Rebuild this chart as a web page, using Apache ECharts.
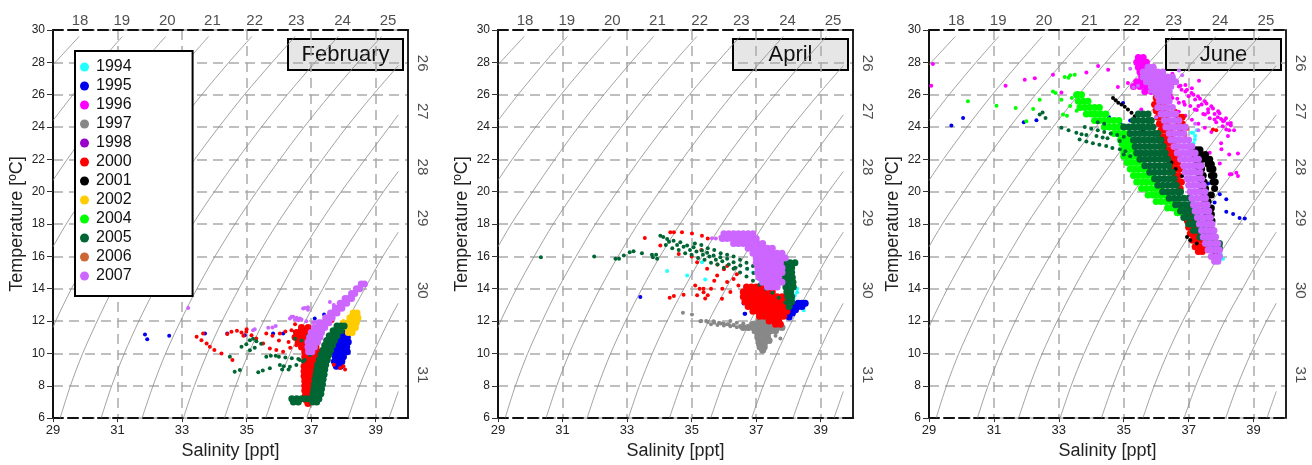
<!DOCTYPE html>
<html>
<head>
<meta charset="utf-8">
<script src="https://cdn.jsdelivr.net/npm/echarts@6.0.0/dist/echarts.min.js"></script>
<style>
  html, body { margin: 0; padding: 0; background: #fff; }
  #chart { width: 1312px; height: 465px; }
</style>
</head>
<body>
<div id="chart"></div>
<script>
// ---- labels ----
const months = ['February', 'April', 'June'];
const years = ['1994', '1995', '1996', '1997', '1998', '2000', '2001', '2002', '2004', '2005', '2006', '2007'];
const yearColors = ['#22ffff', '#0000ee', '#ff00ff', '#888888', '#9900cc', '#ff0000', '#000000', '#ffcc00', '#00ff00', '#006633', '#cc6633', '#cc66ff'];

// sigma-t labels along the top (salinity at T=30) and right (temperature at S=40)
const topSigma = [18, 19, 20, 21, 22, 23, 24, 25];
const topSigmaS = [29.84, 31.13, 32.54, 33.94, 35.25, 36.54, 37.97, 39.38];
const rightSigma = [26, 27, 28, 29, 30, 31];
const rightSigmaT = [27.95, 24.97, 21.53, 18.37, 13.9, 8.67];

// isopycnals, [salinity, temperature]
const iso18 = [[29, 27.85], [29.81, 29.6]];
const iso19 = [[29, 24.4], [29.62, 26], [30.45, 28], [31.15, 29.6]];
const iso20 = [[29, 20.7], [29.44, 22], [30.17, 24], [30.95, 26], [31.79, 28], [32.49, 29.6]];
const iso21 = [[29, 16.6], [29.41, 18], [30.07, 20], [30.76, 22], [31.49, 24], [32.28, 26], [33.12, 28], [33.82, 29.6]];
const iso22 = [[29, 11.6], [29.08, 12], [29.57, 14], [30.12, 16], [30.71, 18], [31.38, 20], [32.08, 22], [32.82, 24], [33.61, 26], [34.45, 28], [35.16, 29.6]];
const iso23 = [[29.22, 6], [29.54, 8], [29.92, 10], [30.37, 12], [30.86, 14], [31.42, 16], [32.02, 18], [32.69, 20], [33.39, 22], [34.14, 24], [34.93, 26], [35.79, 28], [36.5, 29.6]];
const iso24 = [[30.49, 6], [30.82, 8], [31.21, 10], [31.66, 12], [32.16, 14], [32.72, 16], [33.33, 18], [34.0, 20], [34.71, 22], [35.46, 24], [36.26, 26], [37.12, 28], [37.84, 29.6]];
const iso25 = [[31.76, 6], [32.1, 8], [32.49, 10], [32.95, 12], [33.46, 14], [34.02, 16], [34.64, 18], [35.31, 20], [36.03, 22], [36.78, 24], [37.59, 26], [38.45, 28], [39.18, 29.6]];
const iso26 = [[33.04, 6], [33.38, 8], [33.78, 10], [34.24, 12], [34.76, 14], [35.32, 16], [35.94, 18], [36.62, 20], [37.35, 22], [38.1, 24], [38.92, 26], [39.7, 27.8]];
const iso27 = [[34.31, 6], [34.66, 8], [35.06, 10], [35.53, 12], [36.06, 14], [36.62, 16], [37.25, 18], [37.93, 20], [38.67, 22], [39.42, 24], [39.7, 24.75]];
const iso28 = [[35.59, 6], [35.94, 8], [36.35, 10], [36.82, 12], [37.36, 14], [37.92, 16], [38.56, 18], [39.24, 20], [39.7, 21.25]];
const iso29 = [[36.86, 6], [37.22, 8], [37.64, 10], [38.11, 12], [38.66, 14], [39.22, 16], [39.7, 17.5]];
const iso30 = [[38.14, 6], [38.5, 8], [38.92, 10], [39.4, 12], [39.7, 13.1]];
const iso31 = [[39.41, 6], [39.7, 7.65]];
const isopycnals = [iso18, iso19, iso20, iso21, iso22, iso23, iso24, iso25, iso26, iso27, iso28, iso29, iso30, iso31];

// ---- February ----
// scattered casts: [S, T]; dense clouds: rows of [T, S, S, ...]
const feb1995Pts = [[31.85, 11.17], [31.92, 10.88], [32.6, 11.09], [33.71, 11.23], [34.4, 11.23], [34.94, 11.13], [35.82, 11.23], [36.13, 11.23], [36.49, 11.34], [36.65, 11.44], [36.8, 11.5], [37.11, 12.16], [37.4, 12.4], [37.3, 11.4]];
const feb1995Rows = [
  [11.6, 37.85, 37.95, 38.05], [11.3, 37.8, 37.92, 38.05], [11.0, 37.75, 37.88, 38.0, 38.12],
  [10.7, 37.75, 37.88, 38.0, 38.15], [10.4, 37.72, 37.85, 37.98, 38.1], [10.1, 37.72, 37.85, 37.98, 38.12],
  [9.8, 37.75, 37.88, 38.0], [9.5, 37.72, 37.85, 37.95], [9.2, 37.78, 37.9]
];
const feb2000Pts = [[33.45, 11.03], [33.6, 10.82], [33.76, 10.62], [33.86, 10.41], [34.0, 10.21], [34.22, 10.0], [34.56, 9.59], [33.65, 11.23], [34.4, 11.2], [34.53, 11.34], [34.7, 11.4], [34.84, 11.3], [34.99, 11.34], [35.15, 11.13], [35.3, 10.92], [35.51, 10.62], [35.72, 10.31], [35.92, 10.21], [36.13, 10.1], [36.35, 10.35], [36.54, 10.51], [35.61, 11.23], [35.8, 11.1], [36.03, 11.23], [36.2, 11.35], [36.39, 11.44], [36.6, 11.3], [36.75, 11.03], [36.6, 10.8], [36.85, 10.41], [36.0, 10.8], [35.0, 11.5], [34.9, 11.1], [37.6, 12.3], [37.65, 12.0], [37.7, 9.3], [37.9, 9.1], [38.0, 9.2], [38.05, 9.0], [36.5, 11.8], [36.3, 10.7]];
const feb2000Rows = [
  [11.6, 36.7, 36.9], [11.3, 36.55, 36.7, 36.85, 37.0], [11.0, 36.5, 36.65, 36.8, 36.95, 37.1],
  [10.7, 36.6, 36.75, 36.9, 37.05], [10.4, 36.7, 36.85, 37.0, 37.15], [10.1, 36.8, 36.95, 37.1, 37.2],
  [9.8, 36.8, 36.95, 37.1, 37.2], [9.5, 36.8, 36.92, 37.05, 37.18], [9.2, 36.78, 36.9, 37.02, 37.14],
  [8.9, 36.78, 36.9, 37.02, 37.12], [8.6, 36.78, 36.9, 37.0, 37.1], [8.3, 36.8, 36.92, 37.05],
  [8.0, 36.8, 36.92, 37.05], [7.7, 36.8, 36.92, 37.02], [7.4, 36.82, 36.94], [7.1, 36.85, 36.95], [6.9, 36.9]
];
const feb2002Pts = [[37.95, 11.95], [38.0, 12.0]];
const feb2002Rows = [
  [12.5, 38.3, 38.42], [12.2, 38.2, 38.32, 38.45], [11.9, 38.15, 38.28, 38.4],
  [11.6, 38.12, 38.25, 38.37], [11.3, 38.15, 38.27]
];
const feb2005Pts = [[34.84, 10.41], [34.99, 10.56], [35.1, 10.2], [35.25, 10.35], [34.48, 9.8], [34.63, 8.87], [34.79, 8.98], [35.36, 8.83], [35.5, 8.95], [35.72, 9.08], [35.61, 9.8], [35.75, 9.85], [36.03, 9.28], [36.15, 9.2], [36.34, 9.18], [36.54, 9.28], [36.65, 9.59], [36.75, 9.5], [36.96, 9.9], [35.1, 10.82], [35.2, 10.9], [35.9, 9.85], [36.0, 9.8], [36.2, 9.75], [36.4, 9.7], [36.6, 9.65], [36.8, 9.6], [36.1, 9.0], [36.3, 9.0], [35.3, 10.75], [35.45, 10.6], [36.5, 10.9], [36.7, 10.8], [36.9, 11.1]];
const feb2005Rows = [
  [11.7, 37.8, 37.92, 38.02], [11.4, 37.68, 37.8, 37.92], [11.1, 37.56, 37.68, 37.8],
  [10.8, 37.48, 37.6, 37.72], [10.5, 37.42, 37.54, 37.66], [10.2, 37.36, 37.48, 37.6],
  [9.9, 37.3, 37.42, 37.54], [9.6, 37.25, 37.37, 37.5], [9.3, 37.2, 37.32, 37.45],
  [9.0, 37.17, 37.29, 37.42], [8.7, 37.15, 37.27, 37.4], [8.4, 37.12, 37.24, 37.37],
  [8.1, 37.1, 37.22, 37.35], [7.8, 37.08, 37.2, 37.32], [7.5, 37.06, 37.18, 37.3],
  [7.2, 36.4, 36.55, 36.7, 36.85, 37.0, 37.12, 37.24], [7.0, 36.45, 36.6, 37.05, 37.17]
];
const feb2007Pts = [[33.19, 12.81], [35.2, 11.44], [35.25, 11.5], [35.67, 11.58], [35.8, 11.6], [36.44, 12.26], [36.65, 12.16], [36.85, 11.99], [37.11, 11.95], [36.75, 12.77], [36.9, 12.85], [37.58, 13.18], [37.7, 13.0], [36.8, 12.81], [36.9, 12.7], [36.34, 12.16], [36.5, 12.1], [36.6, 12.05], [36.39, 12.26], [36.55, 12.2], [36.7, 12.1], [37.06, 11.91], [35.9, 11.7], [38.55, 14.2]];
const feb2007Rows = [
  [14.3, 38.55, 38.65], [14.0, 38.4, 38.5], [13.7, 38.25, 38.35], [13.4, 38.05, 38.15, 38.25],
  [13.1, 37.9, 38.0, 38.1], [12.8, 37.75, 37.85, 37.95], [12.5, 37.6, 37.7, 37.8],
  [12.2, 37.45, 37.55, 37.65], [11.9, 37.25, 37.35, 37.45, 37.55], [11.6, 37.1, 37.2, 37.3, 37.42],
  [11.3, 37.0, 37.1, 37.2, 37.32], [11.0, 36.95, 37.05, 37.15, 37.27], [10.7, 36.9, 37.0, 37.1, 37.2],
  [10.4, 36.9, 37.0, 37.1], [10.1, 36.92, 37.02]
];

// ---- April ----
const apr1994Pts = [[34.24, 15.09], [34.86, 14.82], [35.42, 14.57], [35.32, 15.64], [38.27, 13.79], [38.47, 12.67], [36.72, 15.23], [38.16, 13.39], [38.27, 14.0], [37.13, 14.41], [37.25, 14.3], [38.35, 13.2], [38.2, 13.6], [37.4, 14.15], [36.9, 15.0]];
const apr1995Pts = [[33.41, 13.49], [36.64, 12.46], [36.61, 13.08], [37.03, 12.87], [37.15, 12.87], [37.44, 12.87], [37.38, 12.75], [36.66, 12.46], [37.25, 12.95]];
const apr1995Rows = [
  [13.1, 38.3, 38.42, 38.52], [12.9, 38.05, 38.17, 38.3, 38.42], [12.7, 37.98, 38.1, 38.22],
  [12.5, 38.0, 38.12], [12.25, 38.02]
];
const apr1997Pts = [[34.73, 12.52], [35.01, 12.4], [35.27, 11.99], [35.45, 12.0], [35.68, 11.99], [35.85, 11.9], [35.99, 11.85], [36.15, 11.8], [36.3, 11.74], [36.51, 11.64], [36.4, 11.9], [36.6, 11.85], [36.77, 11.54], [36.92, 11.33], [37.75, 10.92], [37.6, 11.1], [36.2, 12.0], [35.3, 12.0], [35.5, 11.95], [35.7, 11.9], [35.9, 11.85], [36.1, 11.8], [36.3, 11.75], [36.5, 11.7], [35.6, 11.8], [35.8, 11.75], [36.0, 11.72], [36.2, 11.68], [36.4, 11.62]];
const apr1997Rows = [
  [12.0, 37.1, 37.25, 37.4, 37.55], [11.8, 36.9, 37.05, 37.2, 37.35, 37.5, 37.65],
  [11.6, 36.6, 36.75, 36.9, 37.05, 37.2, 37.35, 37.5, 37.65, 37.8], [11.4, 37.0, 37.15, 37.3, 37.45, 37.6],
  [11.2, 37.05, 37.2, 37.35], [11.0, 37.05, 37.2, 37.35], [10.8, 37.1, 37.25, 37.4],
  [10.6, 37.1, 37.25], [10.4, 37.12, 37.25], [10.2, 37.2]
];
const apr2000Pts = [[33.55, 17.14], [34.34, 17.49], [34.45, 17.49], [34.7, 17.49], [35.01, 17.42], [35.32, 17.28], [35.5, 17.1], [34.03, 16.67], [34.6, 16.15], [34.32, 13.45], [34.45, 13.55], [34.75, 13.63], [35.11, 14.2], [35.25, 14.0], [35.37, 13.79], [35.5, 13.6], [35.94, 13.38], [35.17, 15.64], [35.48, 15.23], [35.79, 14.82], [36.1, 14.41], [35.6, 14.0], [36.0, 15.2], [36.3, 14.6], [35.37, 14.0], [35.17, 13.59], [35.42, 13.39], [35.8, 15.5], [36.1, 15.4], [36.4, 14.9], [35.7, 14.5], [35.95, 14.0], [36.2, 13.8], [36.45, 14.2], [35.0, 16.0], [35.3, 16.4]];
const apr2000Rows = [
  [14.1, 36.7, 36.85, 37.0, 37.15], [13.8, 36.6, 36.75, 36.9, 37.05, 37.2, 37.35, 37.5],
  [13.5, 36.6, 36.75, 36.9, 37.05, 37.2, 37.35, 37.5, 37.65, 37.8],
  [13.2, 36.65, 36.8, 36.95, 37.1, 37.25, 37.4, 37.55, 37.7, 37.85, 38.0],
  [12.9, 36.75, 36.9, 37.05, 37.2, 37.35, 37.5, 37.65, 37.8, 37.95],
  [12.6, 36.9, 37.05, 37.2, 37.35, 37.5, 37.65, 37.8, 37.95],
  [12.3, 37.1, 37.25, 37.4, 37.55, 37.7, 37.85], [12.0, 37.4, 37.55, 37.7], [11.8, 37.6, 37.75]
];
const apr2005Pts = [[30.33, 15.95], [31.98, 15.99], [32.64, 15.85], [32.75, 15.85], [32.9, 16.05], [33.08, 16.26], [33.2, 16.32], [33.46, 16.2], [33.77, 16.1], [33.8, 15.95], [33.93, 15.85], [33.9, 16.1], [34.03, 17.28], [34.12, 17.2], [34.24, 17.08], [34.44, 16.97], [34.65, 16.87], [34.86, 16.67], [35.06, 16.57], [35.32, 16.36], [35.48, 16.22], [35.68, 16.05], [35.89, 15.95], [36.1, 15.85], [36.3, 15.64], [36.51, 15.44], [36.72, 15.23], [36.92, 14.98], [37.13, 14.82], [37.54, 14.41], [34.2, 16.7], [34.4, 16.5], [34.6, 16.4], [34.8, 16.2], [35.0, 16.1], [35.2, 15.9], [35.4, 15.8], [35.6, 15.6], [35.8, 15.5], [36.0, 15.3], [34.3, 16.9], [34.55, 16.7], [34.75, 16.6], [34.95, 16.4], [35.15, 16.3], [35.35, 16.1], [35.55, 16.0], [35.75, 15.8], [35.95, 15.7], [36.15, 15.5], [36.35, 15.3], [35.1, 16.8], [35.3, 16.7], [35.5, 16.5], [35.7, 16.4], [35.9, 16.2], [36.1, 16.1], [36.3, 16.0], [36.5, 15.8], [36.7, 15.6], [36.9, 15.4], [37.1, 15.2], [37.3, 15.0], [37.5, 14.8], [37.7, 14.6], [36.3, 15.23], [36.5, 15.0], [36.7, 14.75], [36.9, 14.5], [37.1, 14.25], [37.3, 14.0], [37.5, 13.75], [37.7, 13.45], [37.9, 13.15], [37.5, 16.0], [37.7, 15.8]];
const apr2005Rows = [
  [15.6, 37.9, 38.05, 38.2], [15.3, 37.85, 37.98, 38.1], [15.0, 37.85, 37.98, 38.1],
  [14.7, 37.88, 38.0, 38.12], [14.4, 37.9, 38.02, 38.14], [14.1, 37.92, 38.04, 38.15],
  [13.8, 37.95, 38.07], [13.5, 37.98, 38.1], [13.2, 38.0, 38.1], [12.9, 38.02]
];
const apr2007Pts = [[35.63, 17.12], [35.89, 17.2], [35.75, 17.1], [36.0, 17.3]];
const apr2007Rows = [
  [17.4, 36.0, 36.15, 36.3, 36.45, 36.6, 36.75, 36.9], [17.1, 35.95, 36.1, 36.25, 36.4, 36.55, 36.7, 36.85, 37.0],
  [16.8, 36.3, 36.45, 36.6, 36.75, 36.9, 37.05, 37.2], [16.5, 36.75, 36.9, 37.05, 37.2, 37.35, 37.5],
  [16.2, 36.9, 37.05, 37.2, 37.35, 37.5, 37.65, 37.8], [15.9, 37.0, 37.15, 37.3, 37.45, 37.6, 37.75, 37.9],
  [15.6, 37.0, 37.15, 37.3, 37.45, 37.6, 37.75], [15.3, 37.05, 37.2, 37.35, 37.5, 37.65, 37.8],
  [15.0, 37.05, 37.2, 37.35, 37.5, 37.65, 37.8], [14.7, 37.1, 37.25, 37.4, 37.55, 37.7],
  [14.4, 37.2, 37.35, 37.5, 37.65, 37.8], [14.1, 37.35, 37.5, 37.65]
];

// ---- June ----
const jun1994Pts = [[37.14, 23.64], [37.09, 23.64], [37.19, 23.23], [37.15, 23.0], [37.2, 23.45], [38.01, 15.85], [38.06, 15.85], [38.0, 16.1], [37.25, 23.8]];
const jun1995Pts = [[29.69, 24.09], [30.05, 24.56], [31.92, 24.3], [32.31, 24.42], [34.16, 24.36], [34.45, 24.4], [34.55, 24.6], [34.98, 25.49], [34.9, 24.2], [35.2, 24.4], [37.75, 21.49], [37.96, 19.85], [38.16, 19.54], [38.16, 18.76], [38.37, 18.62], [38.57, 18.37], [38.73, 18.35], [37.8, 19.33], [36.6, 24.4], [37.6, 20.5], [37.5, 18.5]];
const jun1996Pts = [[29.12, 27.9], [29.07, 26.55], [31.95, 26.92], [32.26, 27.02], [32.82, 27.23], [33.85, 27.37], [34.21, 27.78], [34.52, 27.54], [34.82, 26.47], [33.08, 26.14], [31.36, 26.55], [37.32, 26.86], [38.52, 22.37], [38.47, 21.18], [38.25, 22.3], [37.96, 21.75], [38.27, 21.08], [38.0, 23.0], [36.57, 26.72], [36.78, 26.31], [37.09, 26.1], [37.29, 25.9], [37.5, 25.59], [37.7, 25.28], [37.91, 24.97], [38.06, 24.36], [36.88, 25.38], [37.19, 25.08], [37.5, 24.77], [37.8, 24.46], [38.16, 23.85], [38.21, 23.44], [38.01, 22.62], [38.52, 20.97], [38.32, 21.08], [37.7, 21.8], [37.65, 22.41], [36.7, 26.5], [36.9, 26.2], [37.0, 25.9], [37.2, 25.7], [37.4, 25.4], [37.6, 25.1], [37.8, 24.8], [38.0, 24.5], [38.2, 24.2], [37.3, 25.3], [37.6, 24.9], [37.9, 24.6], [38.1, 24.4], [38.3, 24.1], [38.4, 23.8], [36.9, 26.6], [37.1, 26.4], [36.4, 26.9], [36.3, 27.1], [36.5, 27.3], [35.13, 26.72], [35.54, 25.08], [35.95, 24.05], [36.1, 23.6], [36.47, 22.0], [36.57, 21.38], [36.37, 20.36], [36.3, 26.0], [36.5, 25.8], [36.7, 25.5],
  [36.6, 26.75], [36.75, 26.55], [36.95, 26.3], [37.15, 26.0], [37.35, 25.75], [37.55, 25.45], [37.75, 25.15], [37.95, 24.85], [38.15, 24.55], [38.3, 24.25],
  [36.45, 26.0], [36.65, 25.75], [36.85, 25.55], [37.05, 25.3], [37.25, 25.05], [37.45, 24.8], [37.65, 24.55], [37.85, 24.3], [38.05, 24.05], [38.25, 23.8],
  [36.5, 25.2], [36.7, 24.95], [36.9, 24.7], [37.1, 24.45], [37.3, 24.2], [37.5, 23.95], [37.7, 23.7]];
const jun1996Rows = [
  [28.3, 35.45, 35.6], [28.0, 35.4, 35.55, 35.7], [27.7, 35.45, 35.6, 35.75, 35.9],
  [27.4, 35.5, 35.65, 35.8, 35.95], [27.1, 35.55, 35.7, 35.85, 36.0], [26.8, 35.4, 35.6, 35.75, 35.9, 36.05],
  [26.5, 35.3, 35.5, 35.7, 35.85, 36.0, 36.15], [26.2, 35.65, 35.85, 36.0]
];
const jun2000Pts = [[36.06, 26.31], [36.2, 26.5], [36.21, 26.72], [37.75, 23.84], [37.85, 23.8], [36.4, 24.9], [36.6, 25.0], [36.9, 23.5], [36.95, 23.9], [35.95, 26.5], [36.2, 26.1], [36.05, 25.3]];
const jun2000Rows = [
  [25.8, 36.0, 36.1], [25.4, 35.95, 36.08, 36.2], [25.0, 36.0, 36.12, 36.25],
  [24.6, 36.05, 36.18, 36.3, 36.7, 36.8], [24.2, 36.1, 36.22, 36.35, 36.7, 36.8], [23.8, 36.15, 36.28, 36.4, 36.75],
  [23.4, 36.2, 36.32, 36.45], [23.0, 36.28, 36.4, 36.52], [22.6, 36.35, 36.47, 36.58],
  [22.2, 36.4, 36.52, 36.64], [21.8, 36.42, 36.55, 36.66], [21.4, 36.5, 36.62, 36.72],
  [21.0, 36.58, 36.7], [20.6, 36.66, 36.78], [20.2, 36.74], [19.0, 36.9, 37.0],
  [18.6, 36.92, 37.04], [18.2, 36.96, 37.08, 37.2], [17.8, 37.0, 37.12, 37.24],
  [17.4, 37.05, 37.17, 37.3], [17.0, 37.12, 37.24, 37.36], [16.6, 37.2, 37.32, 37.44], [16.3, 37.3, 37.42]
];
const jun2001Pts = [[34.67, 25.8], [34.75, 25.65], [34.83, 25.5], [34.93, 25.4], [35.03, 25.25], [35.13, 25.08], [35.24, 24.88], [35.34, 24.67], [35.44, 24.35], [35.54, 24.05], [35.6, 23.8], [35.6, 23.64], [36.47, 21.8], [36.6, 21.4], [36.8, 20.97], [36.95, 17.2], [37.05, 17.0], [37.25, 16.8], [37.15, 18.3]];
const jun2001Rows = [
  [22.6, 37.15, 37.25, 37.35], [22.3, 37.15, 37.27, 37.4, 37.52], [22.0, 37.2, 37.3, 37.42, 37.55, 37.65],
  [21.7, 37.25, 37.35, 37.6, 37.7], [21.4, 37.3, 37.4, 37.65, 37.75], [21.0, 37.35, 37.45, 37.7, 37.78],
  [20.6, 37.38, 37.48, 37.75, 37.82], [20.2, 37.42, 37.52, 37.8], [19.8, 37.45, 37.55, 37.7],
  [19.4, 37.5, 37.6], [19.0, 37.52, 37.62, 37.7], [18.6, 37.6, 37.7], [18.2, 37.62, 37.72],
  [17.8, 37.68], [17.4, 37.7], [16.8, 37.75], [16.3, 37.82], [15.8, 37.85]
];
const jun2004Pts = [[30.2, 25.59], [31.08, 25.32], [31.67, 25.18], [32.0, 24.36], [32.21, 25.12], [32.41, 25.69], [32.82, 26.2], [32.9, 26.1], [33.18, 27.09], [33.3, 27.05], [33.35, 27.2], [33.49, 27.23], [33.08, 25.69], [33.13, 24.77], [33.25, 24.7], [33.6, 26.1], [33.7, 25.9], [33.4, 25.8], [33.9, 25.6], [34.0, 25.2], [34.1, 24.9], [33.35, 25.3], [33.55, 25.0], [33.8, 24.8], [34.3, 24.4], [34.55, 24.1], [34.8, 23.7], [35.05, 23.4], [34.6, 23.6], [35.2, 22.9], [35.3, 22.5], [35.1, 22.7], [34.9, 22.9], [34.95, 22.4]];
const jun2004Rows = [
  [26.0, 33.55, 33.7], [25.6, 33.6, 33.75, 33.9], [25.2, 33.65, 33.8, 33.95, 34.1, 34.25],
  [24.8, 33.85, 34.0, 34.15, 34.3, 34.45], [24.4, 34.1, 34.25, 34.4, 34.55, 34.7, 34.85],
  [24.0, 34.4, 34.55, 34.7, 34.85, 35.0], [23.6, 34.7, 34.85, 35.0, 35.15],
  [23.2, 34.9, 35.05, 35.2], [22.9, 35.0, 35.15, 35.3],
  [22.6, 35.0, 35.15, 35.3], [22.2, 35.0, 35.15, 35.3, 35.45], [21.8, 35.1, 35.25, 35.4, 35.55],
  [21.4, 35.2, 35.35, 35.5, 35.65], [21.0, 35.3, 35.45, 35.6, 35.75, 35.9],
  [20.6, 35.4, 35.55, 35.7, 35.85, 36.0], [20.2, 35.55, 35.7, 35.85, 36.0, 36.15],
  [19.8, 35.75, 35.9, 36.05, 36.2, 36.35], [19.4, 36.0, 36.15, 36.3, 36.45, 36.6],
  [19.0, 36.35, 36.5, 36.65, 36.8], [18.7, 36.65, 36.8]
];
const jun2005Pts = [[33.08, 23.95], [33.3, 23.8], [33.54, 23.64], [33.7, 23.55], [33.85, 23.5], [34.16, 23.44], [34.35, 23.35], [34.5, 23.3], [34.88, 23.13], [33.64, 23.23], [33.85, 23.1], [34.05, 23.0], [34.25, 22.9], [34.46, 22.82], [34.65, 22.7], [34.88, 22.62], [35.05, 22.5], [32.41, 24.77], [32.59, 24.56], [32.5, 24.9], [33.8, 24.0], [34.0, 23.9], [34.2, 23.8], [34.4, 23.7], [34.6, 23.6], [34.8, 23.5], [35.0, 23.4], [34.2, 24.3], [34.4, 24.2], [35.0, 22.3], [35.2, 22.2], [36.9, 18.5], [36.8, 18.8]];
const jun2005Rows = [
  [24.8, 35.45, 35.6, 35.75], [24.4, 35.3, 35.45, 35.6, 35.75, 35.85],
  [24.0, 35.0, 35.15, 35.3, 35.45, 35.6, 35.75, 35.9], [23.6, 35.2, 35.35, 35.5, 35.65, 35.8, 35.95, 36.05],
  [23.2, 35.3, 35.45, 35.6, 35.75, 35.9, 36.05, 36.15], [22.8, 35.35, 35.5, 35.65, 35.8, 35.95, 36.1, 36.22],
  [22.4, 35.4, 35.55, 35.7, 35.85, 36.0, 36.15, 36.28], [22.0, 35.5, 35.65, 35.8, 35.95, 36.1, 36.25, 36.35],
  [21.6, 35.65, 35.8, 35.95, 36.1, 36.25, 36.4], [21.2, 35.8, 35.95, 36.1, 36.25, 36.4, 36.5],
  [20.8, 35.95, 36.1, 36.25, 36.4, 36.55], [20.4, 36.05, 36.2, 36.35, 36.5, 36.62],
  [20.0, 36.2, 36.35, 36.5, 36.65, 36.75], [19.6, 36.4, 36.55, 36.7, 36.85, 37.0],
  [19.2, 36.6, 36.75, 36.9, 37.05, 37.15], [18.8, 36.75, 36.9, 37.05, 37.2],
  [18.4, 36.85, 37.0, 37.15, 37.3], [18.0, 37.0, 37.15, 37.3, 37.45], [17.6, 37.15, 37.3, 37.45, 37.6],
  [17.2, 37.35, 37.5, 37.65, 37.8], [16.8, 37.55, 37.7, 37.85, 37.95], [16.5, 37.8, 37.95]
];
const jun2007Pts = [[35.44, 26.55], [35.3, 26.45], [35.2, 27.6], [36.7, 27.5], [36.8, 27.2], [37.2, 24.2], [37.3, 23.8], [36.0, 24.6], [35.8, 26.2]];
const jun2007Rows = [
  [27.7, 35.75, 35.9], [27.4, 35.6, 35.75, 35.9, 36.05, 36.2],
  [27.1, 35.6, 35.75, 35.9, 36.05, 36.2, 36.35, 36.5], [26.8, 35.7, 35.85, 36.0, 36.15, 36.3, 36.45, 36.6],
  [26.5, 35.85, 36.0, 36.15, 36.3, 36.45], [26.2, 35.95, 36.1, 36.25, 36.4], [25.9, 36.05, 36.2, 36.35],
  [25.6, 36.1, 36.25, 36.4], [25.2, 36.05, 36.2, 36.35, 36.5], [24.8, 36.15, 36.3, 36.45, 36.6],
  [24.4, 36.25, 36.4, 36.55, 36.7], [24.0, 36.3, 36.45, 36.6, 36.75, 36.9], [23.6, 36.4, 36.55, 36.7, 36.85],
  [23.2, 36.45, 36.6, 36.75, 36.9, 37.0], [22.8, 36.55, 36.7, 36.85, 37.0, 37.1],
  [22.4, 36.65, 36.8, 36.95, 37.1, 37.2], [22.0, 36.75, 36.9, 37.05, 37.2, 37.3],
  [21.6, 36.85, 37.0, 37.15, 37.3, 37.38], [21.2, 36.9, 37.05, 37.2, 37.35], [20.8, 36.95, 37.1, 37.25, 37.4],
  [20.4, 37.0, 37.15, 37.3, 37.45], [20.0, 37.05, 37.2, 37.35, 37.5], [19.6, 37.1, 37.25, 37.4, 37.52],
  [19.2, 37.15, 37.3, 37.45, 37.57], [18.8, 37.2, 37.35, 37.5, 37.62], [18.4, 37.27, 37.42, 37.57, 37.67],
  [18.0, 37.33, 37.48, 37.62, 37.72], [17.6, 37.4, 37.55, 37.68, 37.78], [17.2, 37.45, 37.6, 37.73, 37.83],
  [16.8, 37.52, 37.67, 37.8, 37.9], [16.4, 37.6, 37.73, 37.86, 37.95], [16.0, 37.7, 37.83, 37.95], [15.7, 37.8, 37.9]
];

// per panel: year -> [scattered points, dense rows]
const panelData = [
  { '1995': [feb1995Pts, feb1995Rows], '2000': [feb2000Pts, feb2000Rows], '2002': [feb2002Pts, feb2002Rows], '2005': [feb2005Pts, feb2005Rows], '2007': [feb2007Pts, feb2007Rows] },
  { '1994': [apr1994Pts, []], '1995': [apr1995Pts, apr1995Rows], '1997': [apr1997Pts, apr1997Rows], '2000': [apr2000Pts, apr2000Rows], '2005': [apr2005Pts, apr2005Rows], '2007': [apr2007Pts, apr2007Rows] },
  { '1994': [jun1994Pts, []], '1995': [jun1995Pts, []], '1996': [jun1996Pts, jun1996Rows], '2000': [jun2000Pts, jun2000Rows], '2001': [jun2001Pts, jun2001Rows], '2004': [jun2004Pts, jun2004Rows], '2005': [jun2005Pts, jun2005Rows], '2007': [jun2007Pts, jun2007Rows] }
];

// ---- layout ----
const FONT = 'Liberation Sans, Arial, sans-serif';
const grids = [
  { left: 53, top: 30, width: 355, height: 390 },
  { left: 498, top: 30, width: 355, height: 390 },
  { left: 929, top: 30, width: 357, height: 390 }
];

function rowsToPts(rows) {
  const out = [];
  rows.forEach(function (r) {
    for (let i = 1; i < r.length; i++) out.push([r[i], r[0]]);
  });
  return out;
}

const xAxes = [], yAxes = [], series = [], graphics = [];

grids.forEach(function (g, i) {
  xAxes.push({
    gridIndex: i, type: 'value', min: 29, max: 40, interval: 2, position: 'bottom',
    name: 'Salinity [ppt]', nameLocation: 'middle', nameGap: 23,
    nameTextStyle: { fontSize: 18, color: '#222', fontFamily: FONT },
    axisLine: { lineStyle: { color: '#111', width: 2, type: [10, 5] } },
    axisTick: { show: true, length: 4, lineStyle: { color: '#333' } },
    axisLabel: { fontSize: 13, color: '#222', margin: 6, fontFamily: FONT, showMaxLabel: false },
    splitLine: { show: true, lineStyle: { color: '#aaa', width: 1.5, type: [10, 6] } }
  });
  xAxes.push({
    gridIndex: i, type: 'value', min: 29, max: 40, position: 'top',
    axisLine: { lineStyle: { color: '#111', width: 2, type: [10, 5] } },
    axisTick: { show: false }, axisLabel: { show: false }, splitLine: { show: false }
  });
  yAxes.push({
    gridIndex: i, type: 'value', min: 6, max: 30, interval: 2, position: 'left',
    name: 'Temperature [ºC]', nameLocation: 'middle', nameGap: 27, nameRotate: 90,
    nameTextStyle: { fontSize: 18, color: '#222', fontFamily: FONT },
    axisLine: { show: true, lineStyle: { color: '#111', width: 2 } },
    axisTick: { show: true, length: 6, lineStyle: { color: '#333' } },
    axisLabel: { fontSize: 12, color: '#222', margin: 8, fontFamily: FONT },
    splitLine: { show: true, lineStyle: { color: '#aaa', width: 1.5, type: [10, 6] } }
  });
  yAxes.push({
    gridIndex: i, type: 'value', min: 6, max: 30, position: 'right',
    axisLine: { show: true, lineStyle: { color: '#222', width: 2 } },
    axisTick: { show: false }, axisLabel: { show: false }, splitLine: { show: false }
  });

  const xi = i * 2, yi = i * 2;

  // isopycnals
  isopycnals.forEach(function (line) {
    series.push({
      type: 'line', xAxisIndex: xi, yAxisIndex: yi, data: line, symbol: 'none', silent: true,
      smooth: 0.3, z: 1, lineStyle: { color: '#8a8a8a', width: 0.8 }
    });
  });

  // sigma-t labels
  series.push({
    type: 'scatter', xAxisIndex: xi, yAxisIndex: yi, symbolSize: 0, silent: true, clip: false,
    data: topSigmaS.map(function (s, k) { return [s, 30, topSigma[k]]; }),
    label: { show: true, position: 'top', distance: 2, fontSize: 15, color: '#222', fontFamily: FONT,
      formatter: function (p) { return p.value[2]; } }
  });
  series.push({
    type: 'scatter', xAxisIndex: xi, yAxisIndex: yi, symbolSize: 0, silent: true, clip: false,
    data: rightSigmaT.map(function (t, k) { return [40, t, rightSigma[k]]; }),
    label: { show: true, position: 'right', distance: 14, rotate: -90, align: 'center', verticalAlign: 'middle',
      fontSize: 15, color: '#222', fontFamily: FONT, formatter: function (p) { return p.value[2]; } }
  });

  // observations, plotted year by year
  years.forEach(function (y, k) {
    const d = panelData[i][y] || [[], []];
    series.push({
      name: y, type: 'scatter', xAxisIndex: xi, yAxisIndex: yi, data: rowsToPts(d[1]),
      symbolSize: 7, z: 3, itemStyle: { color: yearColors[k], opacity: 1 }
    });
    series.push({
      name: y, type: 'scatter', xAxisIndex: xi, yAxisIndex: yi, data: d[0],
      symbolSize: 4, z: 3, itemStyle: { color: yearColors[k], opacity: 1 }
    });
  });

  // month box
  const bx = g.left + g.width - 121, by = 38;
  graphics.push({
    type: 'group', left: bx, top: by, z: 10,
    children: [
      { type: 'rect', shape: { x: 0, y: 0, width: 115, height: 31 },
        style: { fill: '#e6e6e6', stroke: '#000', lineWidth: 2 } },
      { type: 'text', x: 57.5, y: 15.5,
        style: { text: months[i], font: '22px ' + FONT, fill: '#111', textAlign: 'center', textVerticalAlign: 'middle' } }
    ]
  });
});

const chart = echarts.init(document.getElementById('chart'), null, { renderer: 'canvas' });
chart.setOption({
  animation: false,
  backgroundColor: '#fff',
  grid: grids,
  xAxis: xAxes,
  yAxis: yAxes,
  legend: {
    data: years, orient: 'vertical', left: 75, top: 51, icon: 'circle',
    itemWidth: 13, itemHeight: 9, itemGap: 3,
    padding: [8, 61, 12, 5],
    borderColor: '#000', borderWidth: 2, backgroundColor: '#fff',
    textStyle: { fontSize: 16, color: '#111', lineHeight: 16, fontFamily: FONT },
    selectedMode: false
  },
  graphic: graphics,
  series: series
});
</script>
</body>
</html>
